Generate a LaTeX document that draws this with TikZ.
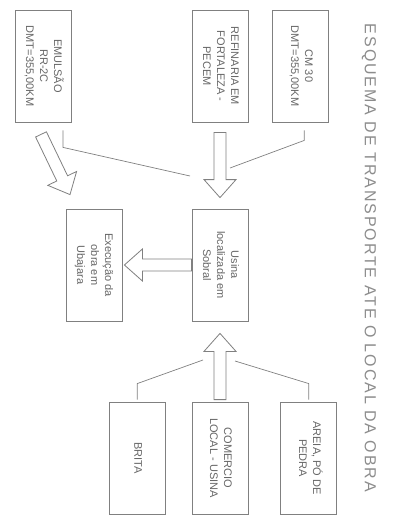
\documentclass[tikz,border=0pt]{standalone}
\usepackage{fontspec}
\setmainfont{Liberation Sans}
\usetikzlibrary{calc,positioning}
\tikzset{
	x=1pt, y=-1pt, line join=round,
	box/.style={draw=black!50, line width=0.8pt, minimum width=56pt, minimum height=112pt, inner sep=0pt, text=black!60, font=\fontsize{11}{14}\selectfont},
	link/.style={draw=black!50, line width=0.7pt},
	blockarrow/.style={draw=black!50, line width=0.8pt, fill=white},
	title/.style={text=black!45, font=\fontsize{16}{18}\selectfont\addfontfeature{LetterSpace=12}, rotate=-90}
}
\newcommand{\vtext}[1]{\rotatebox{-90}{\begin{tabular}{@{}c@{}}#1\end{tabular}}}
\newcommand{\hollowarrow}[2]{%
	\coordinate (hb) at ($(#2)!18pt!(#1)$);
	\draw[blockarrow] ($(#1)!6pt!90:(#2)$) -- ($(hb)!6pt!90:(#2)$) -- ($(hb)!16pt!90:(#2)$) -- (#2)
		-- ($(hb)!16pt!-90:(#2)$) -- ($(hb)!6pt!-90:(#2)$) -- ($(#1)!6pt!-90:(#2)$) -- cycle;}

\begin{document}
\begin{tikzpicture}

    \useasboundingbox (0,0) rectangle (398,519);

    \node[box] (emul) at (43,66) {\vtext{EMULSÃO\\RR-2C\\DMT=355,00KM}};
    \node[box] (refin) at (220,66) {\vtext{REFINARIA EM\\FORTALEZA -\\PECEM}};
    \node[box, right=24pt of refin] (cm) {\vtext{CM 30\\DMT=355,00KM}};

    \node[box] (usina) at (220,265) {\vtext{Usina\\localizada em\\Sobral}};
    \node[box] (exec) at (94,265) {\vtext{Execução da\\obra em\\Ubajara}};

    \node[box] (comercio) at (220,458) {\vtext{COMERCIO\\LOCAL - USINA}};
    \node[box, left=26pt of comercio] (brita) {\vtext{BRITA}};
    \node[box, right=32pt of comercio] (areia) {\vtext{AREIA, PÓ DE\\PEDRA}};

    \node[title] (tit) at (369,258) {ESQUEMA DE TRANSPORTE ATE O LOCAL DA OBRA};

    \coordinate (inl) at (190,176);
    \coordinate (inr) at (230,168);
    \coordinate (outl) at (203,360);
    \coordinate (outr) at (235,361);

    \draw[link] ($(emul.south)+(20,8)$) -- ++(0,17) -- (inl);
    \draw[link] ($(cm.south)+(3.5,8)$) -- ++(0,10) -- (inr);
    \draw[link] ($(brita.north)+(0,-2)$) -- ++(0,-16) -- (outl);
    \draw[link] ($(areia.north)+(0,-2)$) -- ++(0,-16) -- (outr);

    \coordinate (a1s) at ($(refin.south)+(0,10)$);
    \coordinate (a1e) at ($(usina.north)+(0,-11)$);
    \coordinate (a2s) at (usina.west);
    \coordinate (a2e) at ($(exec.east)+(2,0)$);
    \coordinate (a3s) at ($(comercio.north)+(0,-2)$);
    \coordinate (a3e) at ($(usina.south)+(0,12)$);
    \coordinate (a4s) at ($(emul.south)+(-2,12)$);
    \coordinate (a4e) at ($(exec.north)+(-24,-14)$);

    \hollowarrow{a1s}{a1e}
    \hollowarrow{a2s}{a2e}
    \hollowarrow{a3s}{a3e}
    \hollowarrow{a4s}{a4e}

\end{tikzpicture}
\end{document}
